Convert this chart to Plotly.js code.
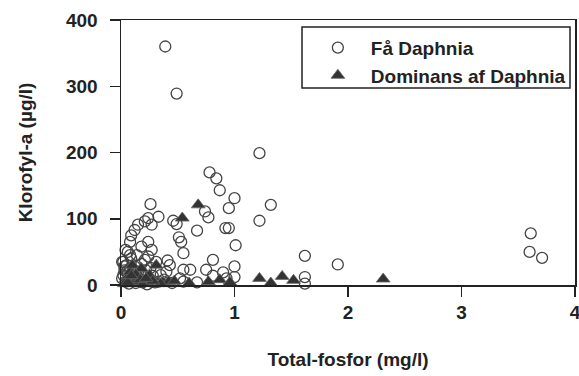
<!DOCTYPE html>
<html>
<head>
<meta charset="utf-8">
<script src="https://cdn.plot.ly/plotly-3.0.1.min.js"></script>
<style>html,body{margin:0;padding:0;background:#fff;}#chart{width:579px;height:376px;}</style>
</head>
<body>
<div id="chart"></div>
<script>
// Få Daphnia (open circles): total phosphorus (mg/l), chlorophyll-a (µg/l)
const faDaphniaTP = [
  0.39, 0.49, 1.22, 0.78, 0.84, 0.87, 1.00, 1.32, 0.95, 0.74, 0.77, 1.22, 0.92, 0.95, 0.67,
  1.01, 0.55, 1.62, 0.81, 1.91, 1.00, 0.75, 0.55, 0.61, 0.90, 0.81, 1.62, 1.62, 0.67, 0.55,
  0.93, 1.00, 3.61, 3.60, 3.71, 0.51, 0.53, 0.46, 0.49, 0.26, 0.33, 0.24, 0.21, 0.27, 0.15,
  0.12, 0.09, 0.08, 0.24, 0.18, 0.27, 0.04, 0.08, 0.24, 0.31, 0.01, 0.41, 0.43, 0.52, 0.27,
  0.02, 0.05, 0.03, 0.06, 0.08, 0.10, 0.12, 0.15, 0.18, 0.20, 0.22, 0.25, 0.01, 0.04, 0.07,
  0.10, 0.13, 0.16, 0.19, 0.23, 0.28, 0.30, 0.02, 0.09, 0.14, 0.06, 0.11, 0.17, 0.21, 0.26,
  0.35, 0.38, 0.40, 0.45, 0.33, 0.03, 0.07, 0.11, 0.05, 0.14
];
const faDaphniaChl = [
  360, 289, 199, 170, 161, 143, 131, 121, 116, 111, 102, 97, 86, 86, 82,
  60, 48, 44, 38, 31, 28, 23, 23, 23, 19, 14, 12, 2, 4, 5,
  10, 12, 78, 50, 41, 72, 65, 97, 92, 122, 103, 101, 96, 91, 91,
  83, 75, 65, 65, 58, 53, 53, 45, 43, 35, 35, 37, 30, 10, 5,
  35, 30, 22, 18, 25, 15, 28, 20, 32, 12, 22, 8, 10, 5, 2,
  6, 3, 9, 4, 1, 14, 4, 15, 40, 45, 50, 12, 16, 38, 26,
  15, 8, 20, 3, 5, 28, 12, 22, 20, 7
];
// Dominans af Daphnia (filled triangles)
const dominansTP = [
  0.68, 0.54, 0.31, 0.87, 0.96, 1.22, 1.32, 1.42, 1.52, 2.31, 0.37, 0.42, 0.47, 0.35,
  0.05, 0.08, 0.12, 0.15, 0.20, 0.10, 0.25, 0.03, 0.18, 0.28, 0.60, 0.77,
  0.06, 0.13, 0.17, 0.22, 0.09
];
const dominansChl = [
  121, 101, 30, 8, 4, 10, 3, 13, 7, 9, 4, 5, 6, 2,
  10, 20, 5, 12, 3, 30, 15, 2, 25, 6, 3, 5,
  4, 16, 8, 10, 14
];
const seriesNames = ['Få Daphnia', 'Dominans af Daphnia'];
const xTickVals = [0, 1, 2, 3, 4];
const yTickVals = [0, 100, 200, 300, 400];

const fnt = 'Liberation Sans, Arial, Helvetica, sans-serif';
const txtFont = {family: fnt, size: 19, color: '#222', weight: 'bold'};
const traces = [
  {
    x: faDaphniaTP, y: faDaphniaChl, type: 'scatter', mode: 'markers', name: seriesNames[0],
    cliponaxis: false,
    marker: {symbol: 'circle-open', size: 11, color: '#444', line: {width: 1.3, color: '#444'}}
  },
  {
    x: dominansTP, y: dominansChl, type: 'scatter', mode: 'markers', name: seriesNames[1],
    cliponaxis: false,
    marker: {symbol: 'triangle-up', size: 12, color: '#333', line: {width: 0.8, color: '#666'}}
  }
];
const layout = {
  width: 579, height: 376,
  margin: {l: 121, r: 4, t: 20, b: 91},
  paper_bgcolor: '#fff', plot_bgcolor: '#fff',
  font: {family: fnt, size: 19, color: '#222'},
  showlegend: true,
  legend: {
    x: 0.405, y: 0.967, xanchor: 'left', yanchor: 'top',
    bgcolor: 'rgba(0,0,0,0)', borderwidth: 0,
    itemwidth: 56, tracegroupgap: 0,
    font: txtFont
  },
  shapes: [{
    type: 'rect', xref: 'paper', yref: 'paper',
    x0: 0.3987, x1: 0.989, y0: 0.743, y1: 0.9736,
    line: {color: '#222', width: 1.5}, fillcolor: 'rgba(0,0,0,0)'
  }],
  xaxis: {
    range: [0, 4], tickvals: xTickVals, ticktext: xTickVals.map(String),
    showline: true, mirror: true, linecolor: '#222', linewidth: 1.5,
    ticks: 'outside', ticklen: 10, tickwidth: 1.5, tickcolor: '#222',
    showgrid: false, zeroline: false, ticklabelstandoff: 0,
    ticklabeloverflow: 'allow',
    tickfont: txtFont,
    title: {text: 'Total-fosfor (mg/l)', standoff: 30, font: txtFont}
  },
  yaxis: {
    range: [0, 400], tickvals: yTickVals, ticktext: yTickVals.map(String),
    showline: true, mirror: true, linecolor: '#222', linewidth: 1.5,
    ticks: 'outside', ticklen: 10, tickwidth: 1.5, tickcolor: '#222',
    showgrid: false, zeroline: false, ticklabelstandoff: 8,
    tickfont: txtFont,
    title: {text: 'Klorofyl-a (µg/l)', standoff: 28, font: txtFont}
  }
};
Plotly.newPlot('chart', traces, layout, {displayModeBar: false, staticPlot: true});
</script>
</body>
</html>
